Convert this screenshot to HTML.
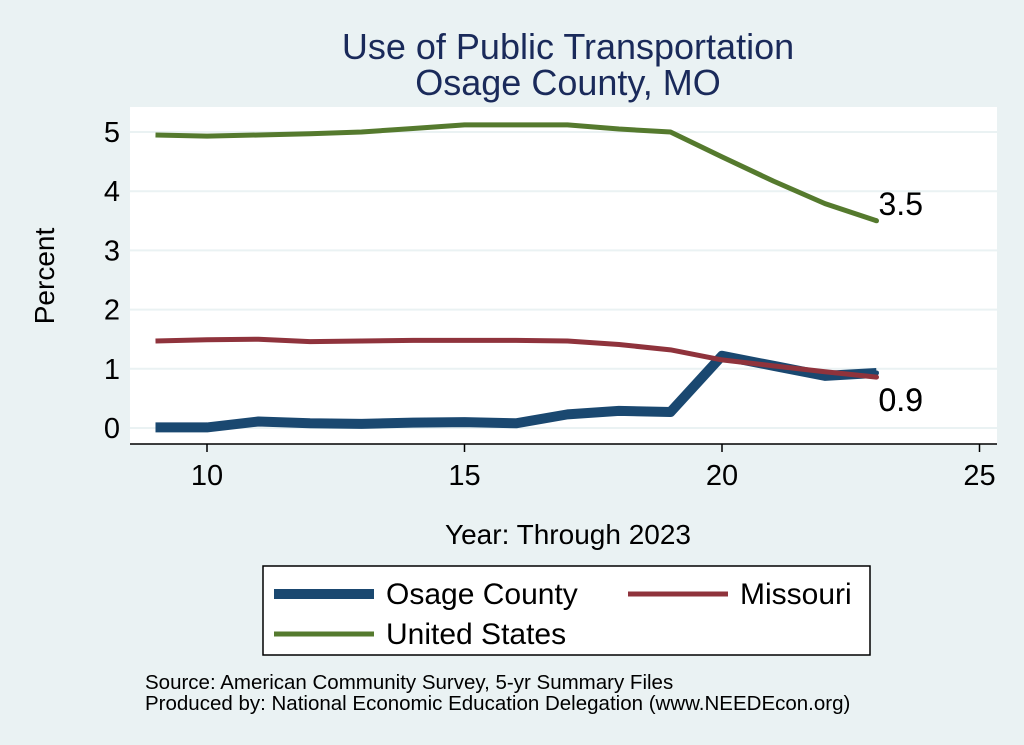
<!DOCTYPE html>
<html><head><meta charset="utf-8"><style>
body{margin:0;background:#eaf2f3;}
svg{display:block;font-family:"Liberation Sans",sans-serif;}
</style></head><body>
<svg id="chart" width="1024" height="745">
<rect x="0" y="0" width="1024" height="745" fill="#eaf2f3"/>
<text x="568" y="59" font-size="36" fill="#1a2a5a" text-anchor="middle">Use of Public Transportation</text>
<text x="568" y="95" font-size="36" fill="#1a2a5a" text-anchor="middle">Osage County, MO</text>
<rect x="130" y="107" width="867" height="337" fill="#fff"/>
<g id="grid"></g><g id="axes"></g><g id="series"></g>
<text x="54" y="276" font-size="28" text-anchor="middle" transform="rotate(-90 54 276)">Percent</text>
<text x="568" y="544" font-size="28" text-anchor="middle">Year: Through 2023</text>
<g>
<rect x="263" y="566" width="607" height="89" fill="#fff" stroke="#000" stroke-width="1.5"/>
<line x1="274" y1="594" x2="374" y2="594" stroke="#1a4870" stroke-width="10"/>
<text x="386" y="604" font-size="30">Osage County</text>
<line x1="628" y1="594" x2="728" y2="594" stroke="#8f333c" stroke-width="5"/>
<text x="740" y="604" font-size="30">Missouri</text>
<line x1="274" y1="634" x2="374" y2="634" stroke="#557a2e" stroke-width="5"/>
<text x="386" y="644" font-size="30">United States</text>
</g>
<text x="145" y="689" font-size="20.5">Source: American Community Survey, 5-yr Summary Files</text>
<text x="145" y="710" font-size="20.5">Produced by: National Economic Education Delegation (www.NEEDEcon.org)</text>
</svg>
<script>
const years=[9,10,11,12,13,14,15,16,17,18,19,20,21,22,23];
const osage=[0.01,0.01,0.11,0.08,0.07,0.09,0.1,0.08,0.23,0.29,0.27,1.22,1.05,0.88,0.93];
const missouri=[1.47,1.49,1.5,1.46,1.47,1.48,1.48,1.48,1.47,1.41,1.32,1.15,1.05,0.95,0.86];
const us=[4.95,4.93,4.95,4.97,5.0,5.06,5.12,5.12,5.12,5.05,5.0,4.58,4.17,3.79,3.5];
const xTicks=[10,15,20,25];
const yTicks=[0,1,2,3,4,5];
const NS='http://www.w3.org/2000/svg';
const X=v=>207+(v-10)*51.5;
const Y=v=>428-v*59.2;
function mk(t,a,p){const e=document.createElementNS(NS,t);for(const k in a)e.setAttribute(k,a[k]);p.appendChild(e);return e;}
const grid=document.getElementById('grid'),axes=document.getElementById('axes'),ser=document.getElementById('series');
yTicks.forEach(t=>{
const g=mk('line',{x1:130,x2:997,y1:Y(t),y2:Y(t),stroke:'#eaf2f3','stroke-width':2},grid);


const l=mk('text',{x:120,y:Y(t)+10,'font-size':29,'text-anchor':'end'},axes);l.textContent=t;


});
const ax=mk('line',{x1:130,x2:997,y1:444,y2:444,stroke:'#000','stroke-width':1.5},axes);


xTicks.forEach(t=>{
mk('line',{x1:X(t),x2:X(t),y1:444,y2:452,stroke:'#000','stroke-width':1.5},axes);
const l=mk('text',{x:X(t),y:485,'font-size':29,'text-anchor':'middle'},axes);l.textContent=t;


});
function line(vals,color,w,name,ly){
const p=mk('polyline',{points:years.map((y,i)=>X(y)+','+Y(vals[i])).join(' '),fill:'none',stroke:color,'stroke-width':w,'stroke-linejoin':'round'},ser);


const n=vals.length-1;
mk('circle',{cx:X(years[n]),cy:Y(vals[n]),r:2.5,fill:color},ser);
const l=mk('text',{x:X(years[n])+2,y:ly(Y(vals[n])),'font-size':32},ser);
l.textContent=vals[n].toFixed(1);


}
line(osage,'#1a4870',10,'osage-line',y=>411);
line(missouri,'#8f333c',5,'missouri-line',y=>411);
line(us,'#557a2e',5,'us-line',y=>y-6);
</script>
</body></html>
